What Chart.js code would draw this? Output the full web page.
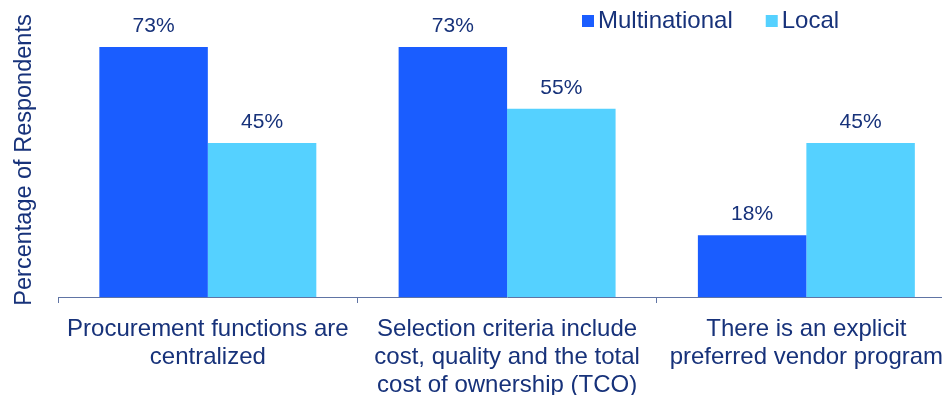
<!DOCTYPE html>
<html>
<head>
<meta charset="utf-8">
<script src="https://cdn.jsdelivr.net/npm/chart.js@4/dist/chart.umd.min.js"></script>
<style>
  html, body { margin: 0; padding: 0; background: #fff; overflow: hidden; }
  #wrap { position: relative; width: 956px; height: 411px; }
</style>
</head>
<body>
<div id="wrap"><canvas id="surveyChart"></canvas></div>
<script>
const categories = [
  ["Procurement functions are", "centralized"],
  ["Selection criteria include", "cost, quality and the total", "cost of ownership (TCO)"],
  ["There is an explicit", "preferred vendor program"]
];
const multinational = [73, 73, 18];
const local = [45, 55, 45];
const seriesNames = ["Multinational", "Local"];

const navy = "#17327a";
const axisColor = "#6074a4";
const font = "Liberation Sans, Arial, sans-serif";

// value labels above each bar
const valueLabels = {
  id: "valueLabels",
  afterDatasetsDraw(chart) {
    const ctx = chart.ctx;
    ctx.save();
    ctx.font = "21px " + font;
    ctx.fillStyle = navy;
    ctx.textAlign = "center";
    ctx.textBaseline = "alphabetic";
    chart.data.datasets.forEach((ds, i) => {
      chart.getDatasetMeta(i).data.forEach((bar, j) => {
        ctx.fillText(ds.data[j] + "%", bar.x, bar.y - 15);
      });
    });
    ctx.restore();
  }
};

// legend drawn in the top right corner
const cornerLegend = {
  id: "cornerLegend",
  afterDraw(chart) {
    const ctx = chart.ctx;
    ctx.save();
    ctx.font = "24px " + font;
    ctx.textBaseline = "middle";
    let x = 582;
    const y = 21;
    chart.data.datasets.forEach(ds => {
      ctx.fillStyle = ds.backgroundColor;
      ctx.fillRect(x, y - 6, 12, 12);
      ctx.fillStyle = navy;
      ctx.fillText(ds.label, x + 16, y);
      x += 16 + ctx.measureText(ds.label).width + 33;
    });
    ctx.restore();
  }
};

new Chart(document.getElementById("surveyChart"), {
  type: "bar",
  data: {
    labels: categories,
    datasets: [
      { label: seriesNames[0], data: multinational, backgroundColor: "#1a5dff" },
      { label: seriesNames[1], data: local, backgroundColor: "#55d1ff" }
    ]
  },
  options: {
    responsive: true,
    maintainAspectRatio: false,
    animation: false,
    layout: { padding: { top: 23, left: 0, right: 0, bottom: 0 } },
    datasets: {
      bar: { categoryPercentage: 0.725, barPercentage: 1 }
    },
    plugins: {
      legend: { display: false },
      tooltip: { enabled: false }
    },
    scales: {
      x: {
        grid: {
          display: true,
          drawOnChartArea: false,
          drawTicks: true,
          tickLength: 6,
          color: axisColor,
          offset: true
        },
        border: { display: true, color: axisColor, width: 1 },
        ticks: {
          color: navy,
          padding: 12,
          maxRotation: 0,
          autoSkip: false,
          font: { family: font, size: 24, lineHeight: 28 / 24 }
        }
      },
      y: {
        min: 0,
        max: 80,
        grid: { display: false },
        border: { display: false },
        ticks: { display: false },
        title: {
          display: true,
          text: "Percentage of Respondents",
          color: navy,
          font: { family: font, size: 23.5 },
          padding: { top: 10, bottom: 12 }
        }
      }
    }
  },
  plugins: [valueLabels, cornerLegend]
});
</script>
</body>
</html>
